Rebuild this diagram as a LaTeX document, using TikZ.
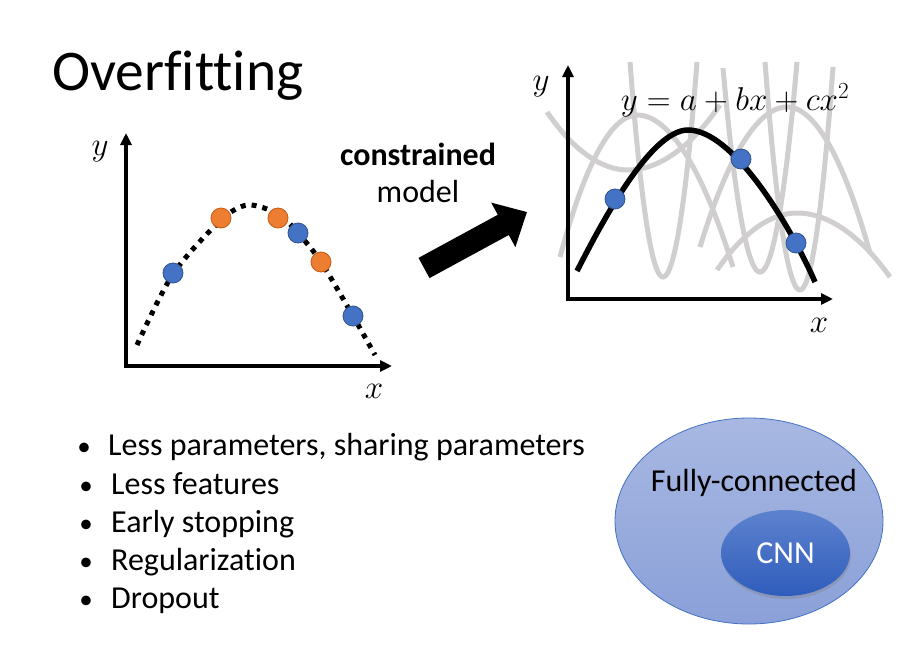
\RequirePackage{fix-cm}
\documentclass[tikz,border=0pt]{standalone}
\usepackage{fontspec}
\setmainfont{Carlito}[Ligatures=NoCommon]
\usetikzlibrary{arrows.meta,shapes.geometric,shadows}
\definecolor{dotblue}{HTML}{4472C4}
\definecolor{dotblueline}{HTML}{2F528F}
\definecolor{dotorange}{HTML}{ED7D31}
\definecolor{dotorangeline}{HTML}{C55A11}
\definecolor{fitgray}{HTML}{D0CECE}
\definecolor{fctop}{RGB}{168,184,226}
\definecolor{fcbot}{RGB}{138,160,216}
\definecolor{cnntop}{RGB}{93,130,206}
\definecolor{cnnbot}{RGB}{47,93,188}

\begin{document}
\begin{tikzpicture}[x=1pt,y=-1pt,
   txt/.style={font=\fontsize{32}{38}\selectfont},
   mth/.style={font=\fontsize{33}{38}\selectfont},
   axes/.style={line width=4pt,{Triangle[length=12pt,width=11pt]}-{Triangle[length=12pt,width=11pt]}},
   bdot/.style={circle,fill=dotblue,draw=dotblueline,line width=0.8pt,minimum size=20pt,inner sep=0pt},
   odot/.style={circle,fill=dotorange,draw=dotorangeline,line width=0.8pt,minimum size=20pt,inner sep=0pt},
   grayfit/.style={fitgray,line width=5pt},
   bul/.style={font=\fontsize{27}{27}\selectfont,anchor=base,inner sep=0pt}]
   \useasboundingbox (0,0) rectangle (912,653);

   \node[font=\fontsize{57.5}{68}\selectfont,anchor=base west,inner sep=0pt] (t) at (52,90) {Overfitting};

   \coordinate (lo) at (126,366);
   \coordinate (ly) at (126,133);
   \coordinate (lx) at (392,366);
   \draw[axes] (ly) -- (lo) -- (lx);
   \node[mth] (yl) at (100,152) {$y$};
   \node[mth] (xl) at (374,391) {$x$};
   \draw[line width=5pt,dash pattern=on 5pt off 6pt] plot[smooth] coordinates {(137,345) (173,274) (221,220) (248,205) (278,214) (298,233) (321,262) (353,316) (375,355)};
   \node[bdot] (p1) at (173,273) {};
   \node[odot] (p2) at (221,218) {};
   \node[odot] (p3) at (278,218) {};
   \node[bdot] (p4) at (298,233) {};
   \node[odot] (p5) at (321,262) {};
   \node[bdot] (p6) at (353,316) {};

   \node[txt,anchor=base] (c) at (418,165) {\bfseries constrained};
   \node[txt,anchor=base] (m) at (418,202) {model};
   \coordinate (at) at (424,268);
   \coordinate (ah) at (527,212);
   \draw[line width=23pt,-{Triangle[length=27pt,width=49pt]}] (at) -- (ah);

   \draw[grayfit] (547,112) parabola bend (628,170) (720,105);
   \draw[grayfit] (560,257) parabola bend (637,115) (733,267);
   \draw[grayfit] (630,62) parabola bend (663,277) (697,62);
   \draw[grayfit] (723,68) parabola bend (760,272) (797,62);
   \draw[grayfit] (765,62) parabola bend (800,290) (833,67);
   \draw[grayfit] (700,247) parabola bend (787,107) (870,253);
   \draw[grayfit] (717,270) parabola bend (797,213) (890,277);

   \coordinate (ro) at (568,299);
   \coordinate (ry) at (568,65);
   \coordinate (rx) at (833,299);
   \draw[axes] (ry) -- (ro) -- (rx);
   \node[mth] (yr) at (541,87) {$y$};
   \node[mth] (xr) at (819,325) {$x$};
   \node[mth,anchor=base] (eq) at (735,110) {$y=a+bx+cx^2$};
   \draw[line width=5.5pt] (577,271) .. controls (600,226) and (650,130) .. (688,130) .. controls (733,130) and (790,225) .. (815,282);
   \node[bdot] (q1) at (615,199) {};
   \node[bdot] (q2) at (741,159) {};
   \node[bdot] (q3) at (796,243) {};

   \node[bul] (d1) at (84,455) {•};
   \node[bul] (d2) at (86,494) {•};
   \node[bul] (d3) at (86,532) {•};
   \node[bul] (d4) at (86,570) {•};
   \node[bul] (d5) at (86,608) {•};
   \node[txt,anchor=base west,inner sep=0pt] (b1) at (108,455) {Less parameters, sharing parameters};
   \node[txt,anchor=base west,inner sep=0pt] (b2) at (111,494) {Less features};
   \node[txt,anchor=base west,inner sep=0pt] (b3) at (111,532) {Early stopping};
   \node[txt,anchor=base west,inner sep=0pt] (b4) at (111,570) {Regularization};
   \node[txt,anchor=base west,inner sep=0pt] (b5) at (111,608) {Dropout};

   \node[ellipse,minimum width=268pt,minimum height=206pt,draw=dotblue,line width=0.8pt,top color=fctop,bottom color=fcbot] (fc) at (749,521) {};
   \node[txt] (fct) at (754,483) {Fully-connected};
   \node[ellipse,txt,minimum width=129pt,minimum height=86pt,top color=cnntop,bottom color=cnnbot,drop shadow={opacity=0.35,shadow xshift=1pt,shadow yshift=-3pt},text=white] (cnn) at (785.5,553) {CNN};
\end{tikzpicture}
\end{document}
